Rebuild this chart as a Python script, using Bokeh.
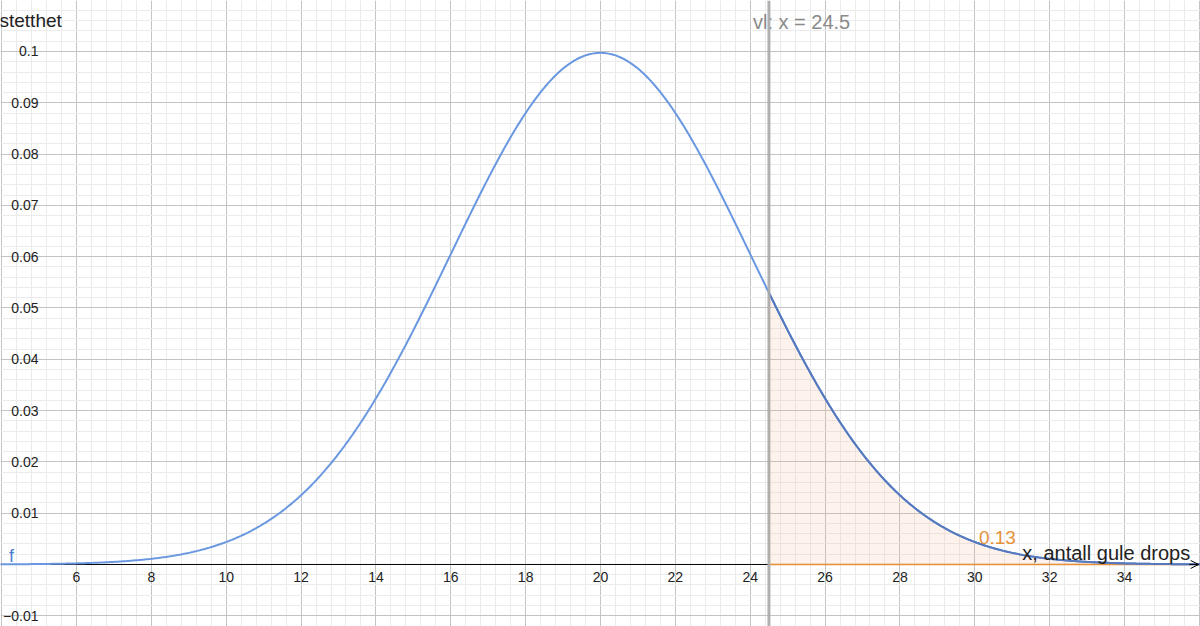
import numpy as np
from bokeh.plotting import figure
from bokeh.models import Range1d, Grid, SingleIntervalTicker, Span, Arrow, OpenHead
from bokeh.core.properties import value
from bokeh.embed import file_html
from bokeh.resources import INLINE

# ---- data ----
mu = 20.0
sigma = 4.0
cut_x = 24.5
area_label = "0.13"
x_ticks = [6, 8, 10, 12, 14, 16, 18, 20, 22, 24, 26, 28, 30, 32, 34]
x_tick_labels = [str(v) for v in x_ticks]
y_ticks = [-0.01, 0.01, 0.02, 0.03, 0.04, 0.05, 0.06, 0.07, 0.08, 0.09, 0.1]
y_tick_labels = ["\u22120.01", "0.01", "0.02", "0.03", "0.04", "0.05", "0.06", "0.07", "0.08", "0.09", "0.1"]

X0, X1 = 3.97, 36.03
Y0, Y1 = -0.01209, 0.10994
FONT = value("Liberation Sans")

def pdf(x):
    return np.exp(-0.5 * ((x - mu) / sigma) ** 2) / (sigma * np.sqrt(2 * np.pi))

p = figure(width=1200, height=626, output_backend="svg", toolbar_location=None,
           x_range=Range1d(X0, X1), y_range=Range1d(Y0, Y1),
           x_axis_location=None, y_axis_location=None, min_border=0)
p.outline_line_color = None
p.background_fill_color = "white"
p.center = []

for dim, interval in ((0, 2), (1, 0.01)):
    g = Grid(dimension=dim, ticker=SingleIntervalTicker(interval=interval, num_minor_ticks=5))
    g.grid_line_color = "#c4c4c4"
    g.grid_line_width = 1
    g.minor_grid_line_color = "#ebebeb"
    g.minor_grid_line_width = 1
    p.add_layout(g)

# shaded area
xs_fill = np.linspace(cut_x, X1 + 0.5, 200)
px = np.concatenate([[cut_x], xs_fill, [xs_fill[-1]]])
py = np.concatenate([[0], pdf(xs_fill), [0]])
p.patch(px, py, fill_color="#f4a582", fill_alpha=0.15, line_color="#e69138", line_alpha=0.5, line_width=1)

# x-axis line
p.segment(x0=[X0], y0=[0], x1=[X1 - 0.05], y1=[0], line_color="black", line_width=1)
p.add_layout(Arrow(end=OpenHead(size=8, line_color="black", line_width=1),
                   x_start=X1 - 0.3, y_start=0, x_end=X1 - 0.05, y_end=0,
                   line_color="black", line_width=1))
# orange line along axis
p.segment(x0=[cut_x], y0=[0], x1=[X1], y1=[0], line_color="#e69138", line_width=1.5)

# vertical line
p.add_layout(Span(location=cut_x, dimension="height", line_color="#a8a8a8", line_width=3, line_alpha=0.9))

# curve
xs = np.linspace(X0, X1, 800)
p.line(xs, pdf(xs), line_color="#6a98e0", line_width=2)
xs2 = np.linspace(cut_x, X1, 300)
p.line(xs2, pdf(xs2), line_color="#5678bd", line_width=2)

# tick labels
p.text(x=x_ticks, y=[0] * len(x_ticks), text=x_tick_labels, text_font=FONT, text_font_size="14px",
       text_color="#222222", text_align="center", text_baseline="top", y_offset=8)
p.text(x=[X0] * len(y_ticks), y=y_ticks, text=y_tick_labels, text_font=FONT, text_font_size="14px",
       text_color="#222222", text_align="right", text_baseline="middle", x_offset=38)

# labels
p.text(x=[X0], y=[Y1], text=["stetthet"], text_font=FONT, text_font_size="19px", text_color="#222222",
       text_align="left", text_baseline="middle", y_offset=20, x_offset=-1)
p.text(x=[cut_x], y=[Y1], text=["vl: x = 24.5"], text_font=FONT, text_font_size="20px", text_color="#8a8a8a",
       text_align="left", text_baseline="middle", y_offset=21, x_offset=-16)
p.text(x=[30.11], y=[0.0053], text=[area_label], text_font=FONT, text_font_size="19px", text_color="#e69138",
       text_align="left", text_baseline="middle")
p.text(x=[31.27], y=[0.0023], text=["x, antall gule drops"], text_font=FONT, text_font_size="20px",
       text_color="#222222", text_align="left", text_baseline="middle")
p.text(x=[4.2], y=[0.0016], text=["f"], text_font=FONT, text_font_size="18px", text_color="#4a7fd4",
       text_align="left", text_baseline="middle")

open("out.html", "w").write(file_html(p, INLINE))
